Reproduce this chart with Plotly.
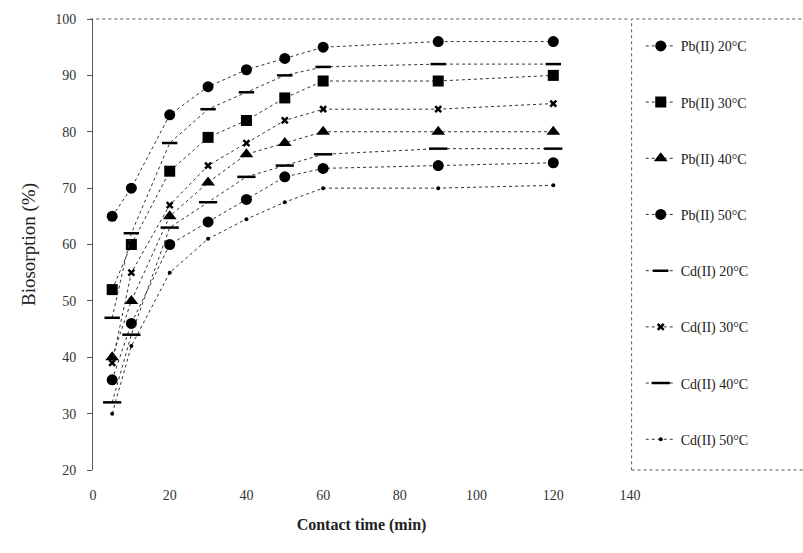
import plotly.graph_objects as go

time_min = [5, 10, 20, 30, 40, 50, 60, 90, 120]

pb_20 = [65, 70, 83, 88, 91, 93, 95, 96, 96]
pb_30 = [52, 60, 73, 79, 82, 86, 89, 89, 90]
pb_40 = [40, 50, 65, 71, 76, 78, 80, 80, 80]
pb_50 = [36, 46, 60, 64, 68, 72, 73.5, 74, 74.5]
cd_20 = [47, 62, 78, 84, 87, 90, 91.5, 92, 92]
cd_30 = [39, 55, 67, 74, 78, 82, 84, 84, 85]
cd_40 = [32, 44, 63, 67.5, 72, 74, 76, 77, 77]
cd_50 = [30, 42, 55, 61, 64.5, 67.5, 70, 70, 70.5]

names = ["Pb(II) 20°C", "Pb(II) 30°C", "Pb(II) 40°C", "Pb(II) 50°C",
         "Cd(II) 20°C", "Cd(II) 30°C", "Cd(II) 40°C", "Cd(II) 50°C"]
series = [pb_20, pb_30, pb_40, pb_50, cd_20, cd_30, cd_40, cd_50]

styles = [
    dict(symbol="circle", size=11),
    dict(symbol="square", size=11),
    dict(symbol="triangle-up", size=12),
    dict(symbol="circle", size=11),
    dict(symbol="line-ew", size=11),
    dict(symbol="x-thin", size=6),
    dict(symbol="line-ew", size=13),
    dict(symbol="circle", size=4),
]

fig = go.Figure()
for i, (nm, ys, st) in enumerate(zip(names, series, styles)):
    open_line = st["symbol"] in ("line-ew", "x-thin")
    fig.add_trace(go.Scatter(
        x=time_min, y=ys, name=nm, mode="lines+markers",
        legendgroup=f"g{i}",
        line=dict(color="#333333", width=1, dash="dot"),
        marker=dict(symbol=st["symbol"], size=st["size"], color="black",
                    line=dict(color="black", width=2.5 if open_line else 0)),
    ))

serif = "Liberation Serif, Times New Roman, serif"

fig.update_layout(
    width=803, height=553,
    margin=dict(l=93, r=173, t=15, b=83),
    paper_bgcolor="white", plot_bgcolor="white",
    font=dict(family=serif, color="#222222", size=14),
    legend=dict(x=1.02, y=0.975, xanchor="left", yanchor="top",
                tracegroupgap=35, font=dict(family=serif, size=14, color="#222222"),
                bgcolor="rgba(0,0,0,0)"),
    xaxis=dict(range=[0, 140], tickmode="array", tickvals=[0, 20, 40, 60, 80, 100, 120, 140],
               showgrid=False, zeroline=False, showline=False, ticks="",
               ticklabelstandoff=15, tickfont=dict(size=14, color="#333333"),
               title=dict(text="<b>Contact time (min)</b>", font=dict(size=16, color="#222222"), standoff=16)),
    yaxis=dict(range=[20, 100], tickmode="array", tickvals=[20, 30, 40, 50, 60, 70, 80, 90, 100],
               showgrid=False, zeroline=False, showline=True, linecolor="#555555", linewidth=1,
               ticks="outside", ticklen=5, tickcolor="#555555",
               ticklabelstandoff=8, tickfont=dict(size=14, color="#333333"),
               title=dict(text="Biosorption (%)", font=dict(size=19, color="#222222"), standoff=14)),
    shapes=[
        dict(type="line", xref="paper", yref="paper", x0=-0.005, x1=1.0, y0=1, y1=1,
             line=dict(color="#555555", width=1, dash="dot")),
        dict(type="rect", xref="paper", yref="paper", x0=1.003, x1=1.35, y0=0, y1=1,
             line=dict(color="#555555", width=1, dash="dot")),
    ],
)

fig.write_html("out.html")
